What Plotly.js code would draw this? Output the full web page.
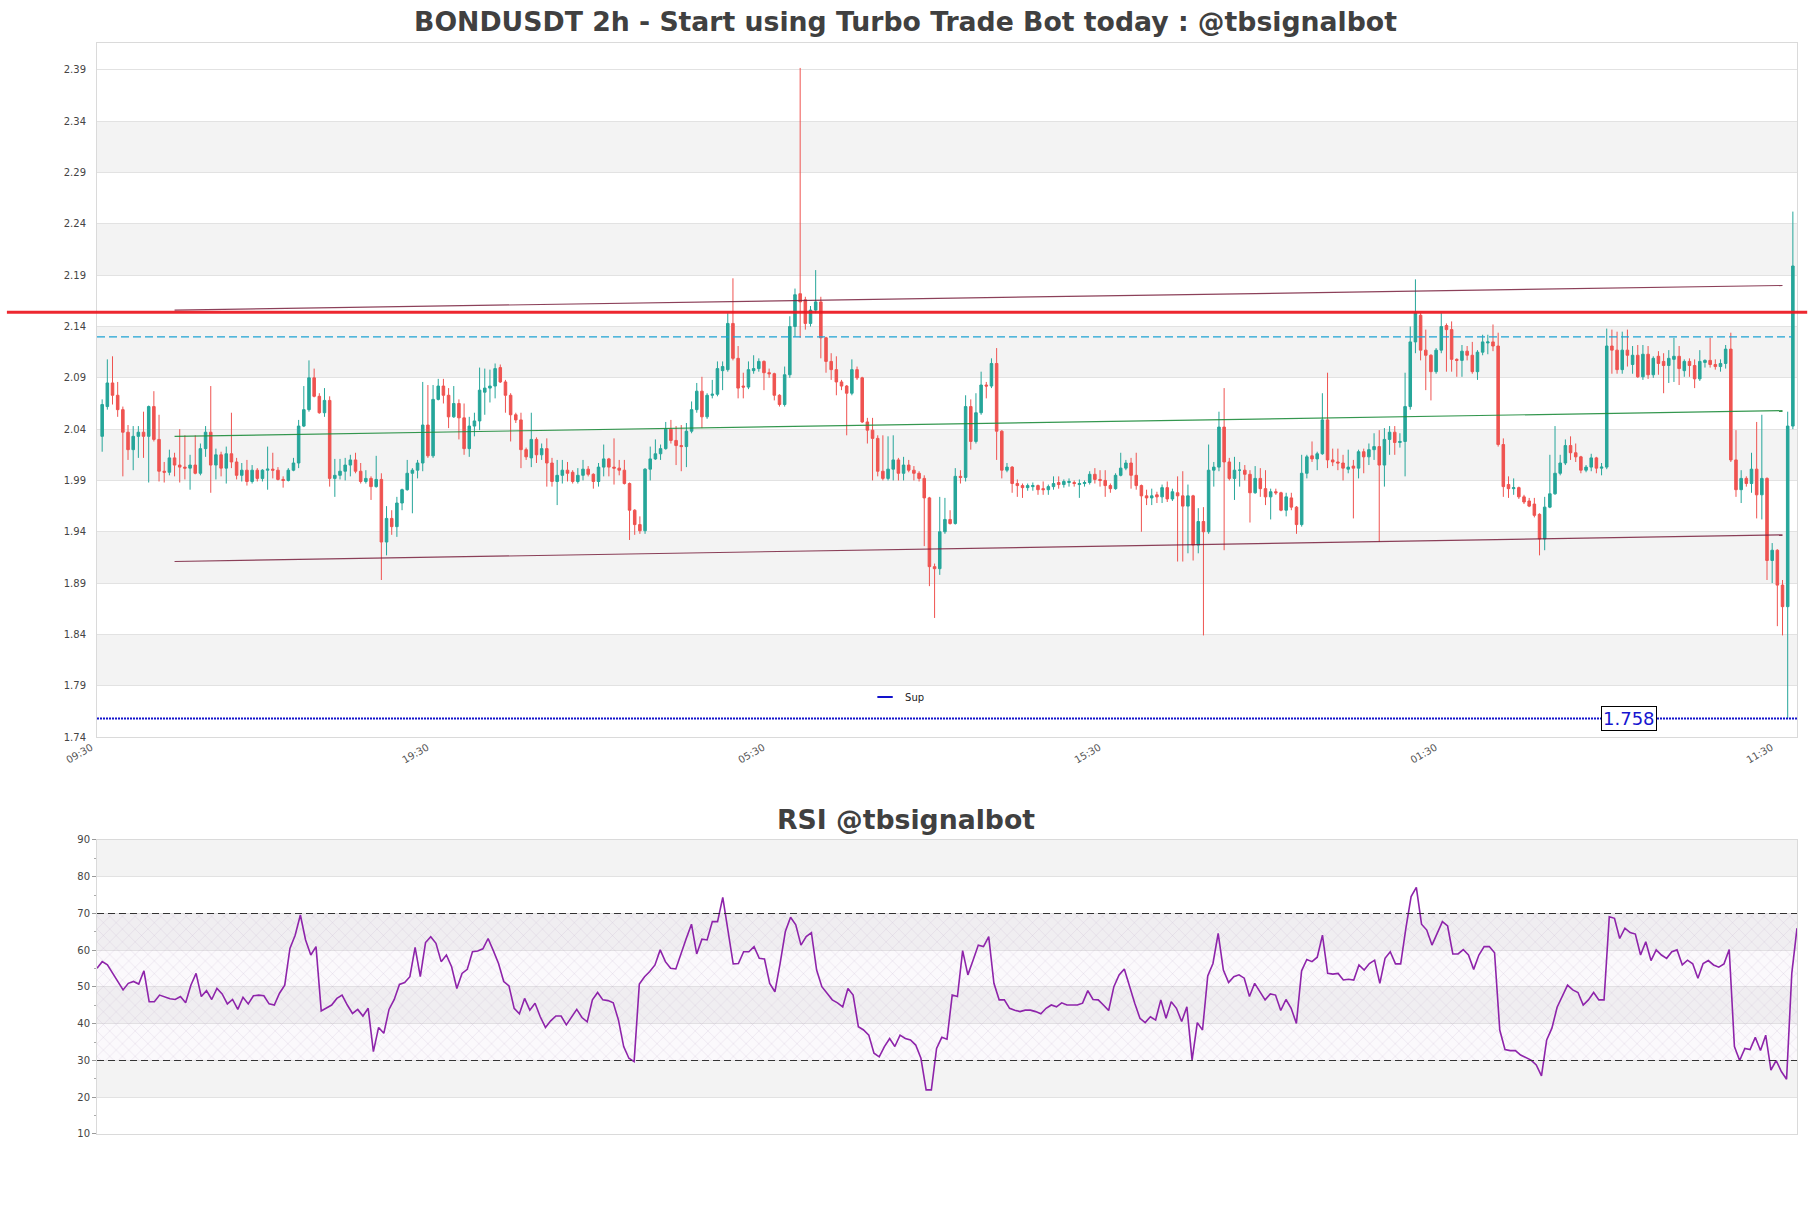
<!DOCTYPE html>
<html>
<head>
<meta charset="utf-8">
<script src="https://cdn.plot.ly/plotly-3.0.1.min.js"></script>
<style>html,body{margin:0;padding:0;background:#fff;}#chart{width:1811px;height:1208px;}</style>
</head>
<body>
<div id="chart"></div>
<script>
// ---------------- DATA ----------------
const chartTitle = "BONDUSDT 2h - Start using Turbo Trade Bot today : @tbsignalbot";
const rsiTitle = "RSI @tbsignalbot";

const tickIndex = [0, 65, 130, 195, 260, 325];
const tickLabels = ["09:30", "19:30", "05:30", "15:30", "01:30", "11:30"];
const priceTicks = [1.74,1.79,1.84,1.89,1.94,1.99,2.04,2.09,2.14,2.19,2.24,2.29,2.34,2.39];
const rsiTicks = [10,20,30,40,50,60,70,80,90];

const openP = [
2.033,2.062,2.085,2.073,2.059,2.037,2.020,2.033,2.037,2.033,
2.062,2.030,1.999,1.998,2.012,2.005,2.003,2.002,2.005,1.997,
2.021,2.037,2.005,2.015,2.002,2.016,2.008,1.995,2.000,1.989,
2.000,1.992,2.000,2.001,2.000,1.991,1.990,2.000,2.007,2.043,
2.059,2.090,2.072,2.056,2.068,1.992,1.995,1.999,2.005,2.010,
1.999,1.989,1.992,1.984,1.991,1.930,1.953,1.945,1.968,1.981,
1.997,2.000,2.007,2.044,2.014,2.069,2.082,2.073,2.052,2.065,
2.051,2.021,2.043,2.048,2.076,2.080,2.082,2.100,2.086,2.073,
2.054,2.049,2.020,2.012,2.030,2.015,2.021,2.007,1.989,1.995,
2.000,1.998,1.989,1.995,2.001,1.996,1.989,2.003,2.011,2.003,
2.002,2.000,1.987,1.961,1.947,1.941,2.001,2.011,2.016,2.021,
2.040,2.029,2.024,2.023,2.038,2.059,2.077,2.052,2.073,2.074,
2.097,2.098,2.143,2.109,2.082,2.081,2.097,2.099,2.106,2.095,
2.094,2.073,2.064,2.093,2.140,2.172,2.166,2.143,2.156,2.164,
2.129,2.106,2.098,2.086,2.082,2.075,2.098,2.090,2.047,2.039,
2.031,1.999,1.992,2.001,2.010,1.997,2.005,2.000,1.997,1.992,
1.973,1.906,1.904,1.940,1.952,1.948,1.994,1.993,2.062,2.028,
2.056,2.083,2.082,2.104,2.038,2.000,2.003,1.987,1.985,1.983,
1.984,1.985,1.982,1.981,1.984,1.988,1.986,1.988,1.988,1.986,
1.987,1.988,1.996,1.991,1.990,1.985,1.982,1.995,2.002,2.007,
1.995,1.985,1.975,1.973,1.976,1.974,1.983,1.972,1.978,1.975,
1.965,1.975,1.927,1.950,1.940,2.000,2.003,2.042,2.008,1.992,
2.000,2.000,1.996,1.978,1.992,1.982,1.974,1.979,1.978,1.961,
1.973,1.964,1.947,1.997,2.014,2.011,2.016,2.049,2.010,2.008,
2.007,2.001,2.004,2.002,2.018,2.013,2.020,2.023,2.005,2.030,
2.037,2.027,2.028,2.062,2.125,2.151,2.117,2.112,2.096,2.117,
2.141,2.137,2.108,2.107,2.116,2.112,2.096,2.115,2.124,2.125,
2.121,2.025,1.986,1.982,1.983,1.974,1.970,1.967,1.957,1.933,
1.964,1.977,1.997,2.007,2.024,2.017,2.013,2.000,2.003,2.012,
2.002,2.003,2.121,2.117,2.098,2.117,2.103,2.112,2.091,2.113,
2.093,2.111,2.106,2.102,2.108,2.111,2.097,2.106,2.102,2.089,
2.105,2.107,2.103,2.101,2.104,2.118,2.010,1.981,1.992,1.987,
2.001,1.976,1.992,1.912,1.922,1.888,1.867,2.043];

const highP = [
2.069,2.108,2.111,2.086,2.062,2.044,2.043,2.043,2.057,2.063,
2.077,2.054,2.008,2.020,2.017,2.040,2.034,2.015,2.034,2.026,
2.043,2.082,2.021,2.018,2.023,2.056,2.012,2.007,2.010,2.005,
2.002,2.001,2.023,2.017,2.003,1.994,2.002,2.012,2.049,2.082,
2.107,2.099,2.075,2.080,2.072,2.011,2.011,2.012,2.015,2.017,
2.007,2.000,1.994,2.014,1.997,1.965,1.961,1.974,1.982,2.010,
2.002,2.010,2.086,2.083,2.083,2.089,2.089,2.080,2.082,2.069,
2.065,2.052,2.056,2.100,2.099,2.098,2.104,2.103,2.088,2.075,
2.056,2.056,2.022,2.056,2.032,2.026,2.031,2.012,2.010,2.010,
2.008,2.000,2.002,2.010,2.004,1.997,2.007,2.025,2.012,2.031,
2.010,2.010,1.988,1.962,1.955,2.002,2.023,2.030,2.025,2.047,
2.049,2.043,2.044,2.046,2.067,2.085,2.091,2.075,2.088,2.106,
2.106,2.153,2.187,2.121,2.095,2.106,2.112,2.109,2.107,2.099,
2.095,2.074,2.101,2.150,2.177,2.392,2.169,2.160,2.195,2.169,
2.130,2.114,2.111,2.088,2.083,2.108,2.101,2.091,2.051,2.051,
2.034,2.034,2.033,2.034,2.012,2.013,2.010,2.004,1.999,1.995,
1.974,1.909,1.974,1.973,1.961,2.002,2.000,2.073,2.069,2.075,
2.096,2.086,2.109,2.119,2.039,2.007,2.004,1.991,1.987,1.987,
1.988,1.986,1.989,1.986,1.994,1.994,1.991,1.992,1.990,1.991,
1.990,1.999,2.002,2.000,2.000,1.987,1.997,2.017,2.010,2.012,
2.017,1.986,1.981,1.982,1.979,1.986,1.989,1.982,1.994,1.999,
1.986,1.976,1.963,1.964,2.025,2.008,2.057,2.080,2.012,2.013,
2.008,2.005,2.000,2.004,2.002,2.000,1.982,1.982,1.979,1.978,
1.978,1.965,2.015,2.015,2.028,2.018,2.075,2.095,2.021,2.021,
2.015,2.020,2.010,2.020,2.021,2.026,2.036,2.039,2.041,2.043,
2.043,2.036,2.095,2.140,2.186,2.153,2.137,2.113,2.119,2.153,
2.143,2.145,2.109,2.122,2.121,2.125,2.117,2.132,2.132,2.142,
2.134,2.031,1.994,1.992,1.984,1.976,1.973,1.973,1.958,1.974,
2.015,2.043,2.015,2.030,2.033,2.026,2.014,2.005,2.016,2.013,
2.007,2.138,2.137,2.135,2.135,2.137,2.121,2.122,2.122,2.121,
2.111,2.116,2.114,2.117,2.129,2.121,2.108,2.109,2.108,2.117,
2.108,2.129,2.108,2.108,2.122,2.134,2.039,2.000,1.994,2.017,
2.047,2.054,1.993,1.929,1.923,1.893,2.057,2.252];

const lowP = [
2.018,2.059,2.064,2.052,1.994,2.010,2.000,2.012,2.012,1.988,
2.028,1.989,1.988,1.995,1.994,1.988,1.991,1.981,1.996,1.995,
2.013,1.978,1.991,1.994,1.987,2.002,1.991,1.989,1.985,1.987,
1.989,1.989,1.981,1.992,1.990,1.983,1.989,1.999,2.002,2.042,
2.057,2.071,2.055,2.052,1.984,1.974,1.991,1.990,1.994,1.997,
1.987,1.987,1.971,1.983,1.893,1.917,1.937,1.935,1.961,1.980,
1.958,1.992,1.999,2.012,2.012,2.068,2.065,2.041,2.051,2.030,
2.015,2.013,2.033,2.039,2.054,2.066,2.070,2.085,2.056,2.028,
2.046,2.002,2.010,2.003,2.007,2.010,1.984,1.984,1.966,1.987,
1.989,1.987,1.987,1.990,1.994,1.982,1.984,1.994,1.994,1.986,
1.995,1.986,1.932,1.937,1.938,1.938,1.990,2.010,2.010,2.020,
2.026,2.005,1.999,2.003,2.036,2.056,2.041,2.050,2.070,2.072,
2.078,2.096,2.107,2.070,2.070,2.079,2.094,2.096,2.078,2.090,
2.068,2.062,2.062,2.090,2.130,2.129,2.137,2.140,2.153,2.109,
2.095,2.088,2.073,2.078,2.034,2.073,2.088,2.046,2.026,1.990,
1.994,1.990,1.990,1.990,1.990,1.990,1.998,1.990,1.989,1.926,
1.887,1.856,1.898,1.938,1.947,1.947,1.987,1.989,2.020,2.026,
2.054,2.070,2.080,2.010,1.992,1.998,1.978,1.974,1.973,1.980,
1.980,1.976,1.976,1.976,1.981,1.982,1.983,1.984,1.984,1.973,
1.984,1.986,1.987,1.984,1.974,1.978,1.981,1.994,2.000,1.982,
1.981,1.940,1.966,1.966,1.968,1.968,1.969,1.970,1.911,1.911,
1.919,1.912,1.919,1.839,1.938,1.984,1.999,1.922,1.990,1.971,
1.984,1.990,1.949,1.977,1.974,1.966,1.952,1.976,1.960,1.955,
1.961,1.938,1.945,1.992,2.008,2.000,2.015,2.002,2.004,2.000,
1.990,1.997,1.953,1.992,1.997,2.005,2.010,1.930,1.984,2.015,
2.015,2.022,1.994,2.059,2.114,2.107,2.078,2.068,2.094,2.114,
2.096,2.096,2.091,2.091,2.107,2.094,2.088,2.112,2.113,2.116,
2.023,1.974,1.973,1.976,1.972,1.967,1.964,1.954,1.917,1.922,
1.963,1.976,1.995,2.005,2.010,2.008,1.997,1.998,1.999,1.997,
1.995,2.001,2.094,2.094,2.094,2.101,2.094,2.090,2.088,2.089,
2.090,2.093,2.075,2.085,2.086,2.083,2.091,2.091,2.080,2.087,
2.100,2.100,2.098,2.096,2.099,2.008,1.974,1.968,1.984,1.978,
1.953,1.952,1.893,1.890,1.848,1.839,1.758,2.040];

const closeP = [
2.064,2.085,2.073,2.059,2.037,2.020,2.033,2.037,2.033,2.062,
2.030,1.999,1.998,2.012,2.005,2.003,2.002,2.005,1.997,2.021,
2.037,2.005,2.015,2.002,2.016,2.008,1.995,2.000,1.989,2.000,
1.992,2.000,2.001,2.000,1.991,1.990,2.000,2.007,2.043,2.059,
2.090,2.072,2.056,2.068,1.992,1.995,1.999,2.005,2.010,1.999,
1.989,1.992,1.984,1.991,1.930,1.953,1.945,1.968,1.981,1.997,
2.000,2.007,2.044,2.014,2.069,2.082,2.073,2.052,2.065,2.051,
2.021,2.043,2.048,2.078,2.080,2.082,2.099,2.086,2.073,2.054,
2.049,2.020,2.013,2.030,2.015,2.021,2.007,1.989,1.995,2.000,
1.997,1.989,1.995,2.001,1.996,1.989,2.003,2.011,2.003,2.002,
2.000,1.987,1.961,1.947,1.941,2.001,2.011,2.016,2.021,2.040,
2.029,2.024,2.023,2.038,2.059,2.077,2.052,2.073,2.074,2.099,
2.101,2.143,2.109,2.080,2.081,2.098,2.099,2.106,2.095,2.094,
2.073,2.064,2.093,2.140,2.171,2.164,2.143,2.156,2.164,2.129,
2.106,2.098,2.086,2.082,2.075,2.098,2.090,2.047,2.039,2.031,
1.999,1.992,2.001,2.010,1.997,2.005,2.000,1.997,1.992,1.973,
1.906,1.904,1.940,1.952,1.948,1.994,1.993,2.062,2.028,2.056,
2.083,2.082,2.104,2.038,2.000,2.003,1.987,1.985,1.983,1.985,
1.985,1.981,1.981,1.984,1.987,1.986,1.989,1.989,1.987,1.987,
1.988,1.996,1.991,1.990,1.985,1.982,1.995,2.002,2.007,1.995,
1.985,1.975,1.973,1.975,1.974,1.983,1.972,1.979,1.975,1.965,
1.975,1.927,1.950,1.940,2.000,2.003,2.042,2.008,1.992,2.000,
2.000,1.996,1.978,1.992,1.982,1.974,1.979,1.978,1.961,1.974,
1.964,1.947,1.997,2.013,2.011,2.016,2.049,2.010,2.008,2.007,
2.002,2.003,2.002,2.018,2.013,2.020,2.023,2.005,2.030,2.037,
2.027,2.028,2.062,2.125,2.153,2.117,2.112,2.096,2.117,2.140,
2.137,2.108,2.107,2.116,2.112,2.096,2.115,2.125,2.125,2.121,
2.025,1.984,1.982,1.983,1.974,1.969,1.965,1.956,1.933,1.964,
1.977,1.997,2.007,2.024,2.017,2.013,2.000,2.003,2.012,2.002,
2.003,2.121,2.117,2.098,2.117,2.112,2.112,2.091,2.113,2.093,
2.109,2.104,2.102,2.109,2.111,2.099,2.106,2.102,2.089,2.106,
2.107,2.103,2.101,2.104,2.118,2.010,1.981,1.992,1.987,2.001,
1.976,1.992,1.912,1.922,1.888,1.867,2.043,2.199];

const rsiValues = [
55.1,56.9,56.0,53.7,51.5,49.2,51.0,51.5,50.8,54.4,46.0,46.0,47.8,47.2,46.8,46.6,47.4,45.7,50.5,53.7,
47.4,49.0,46.6,49.6,48.1,45.4,46.6,43.9,47.2,45.4,47.6,47.8,47.6,45.4,45.1,48.3,50.5,60.5,64.1,69.6,
62.8,58.7,61.0,43.5,44.2,45.1,46.9,47.8,45.1,42.8,43.9,42.1,44.2,32.4,39.0,37.4,43.9,46.6,50.7,51.2,
52.8,60.8,52.8,62.1,63.7,61.9,56.9,58.7,55.5,49.6,53.7,54.8,59.6,59.8,60.4,63.2,59.9,56.4,51.5,50.3,
44.2,42.7,46.9,43.7,45.6,41.9,39.0,40.8,42.1,42.1,39.7,41.7,43.9,41.7,40.5,46.5,
48.5,46.5,46.3,45.7,41.0,33.8,30.6,29.7,50.8,52.8,54.2,56.0,60.1,56.9,55.1,54.9,59.2,63.2,67.1,59.0,
63.0,62.8,67.8,67.8,74.4,65.5,56.3,56.4,59.6,59.6,61.0,57.8,57.6,51.0,48.7,56.4,65.1,69.0,66.9,61.4,
63.7,64.8,54.6,50.1,48.3,46.5,45.7,44.6,49.6,47.8,39.2,38.3,36.9,32.0,31.0,33.8,36.0,33.8,36.9,36.0,
35.6,34.2,30.6,22.0,22.0,33.3,36.3,35.8,47.8,47.4,59.9,53.3,57.3,61.4,61.0,63.7,51.0,46.5,46.5,44.2,
43.7,43.3,43.7,43.7,43.3,42.7,44.2,45.1,44.6,45.7,45.1,45.1,45.1,45.6,49.0,46.6,46.5,45.1,43.6,50.1,
53.3,54.9,50.1,45.6,41.5,40.3,41.9,41.0,46.5,41.5,46.0,44.2,40.6,44.6,30.1,40.3,38.3,53.0,56.4,64.6,
54.6,51.2,52.8,53.3,52.4,47.4,51.0,48.7,46.5,48.1,47.8,43.6,46.6,44.2,40.1,54.4,57.5,56.9,58.1,64.1,
53.7,53.5,53.7,51.9,52.1,51.9,56.0,54.6,56.4,57.3,51.0,57.8,59.6,56.3,56.3,66.0,74.6,77.1,67.1,65.5,
61.4,64.6,67.8,66.6,59.0,59.0,60.2,58.7,54.8,58.7,61.0,61.0,59.3,38.3,33.0,32.7,32.7,31.5,30.9,30.1,
28.8,25.8,35.6,38.8,44.5,47.4,50.5,49.2,48.5,45.1,46.5,48.5,46.5,46.5,69.1,68.7,63.2,66.0,64.8,64.4,
58.7,62.3,57.2,60.1,58.7,57.8,59.6,60.1,56.0,57.3,56.3,52.4,56.4,57.2,56.0,55.4,56.3,60.2,33.8,30.0,
33.3,33.0,36.3,32.7,36.9,27.4,30.0,27.0,24.9,53.7,66.0];

// trend channel (start / end candle index and prices)
const channelX = [14, 325];
const channelUpper = [2.156, 2.180];
const channelMid = [2.033, 2.058];
const channelLower = [1.911, 1.937];
const resistanceLevel = 2.154;
const dashedLevel = 2.130;
const supportLevel = 1.758;
const rsiUpper = 70, rsiLower = 30;

// ---------------- BUILD ----------------
const idx = openP.map((_, i) => i);
const rsiIdx = rsiValues.map((_, i) => i);
const xMin = -1, xMax = idx.length - 0.2;
const rsiMax = rsiIdx.length - 1;
const supColor = '#1212cc';

const traces = [
  {
    type: 'candlestick', x: idx, open: openP, high: highP, low: lowP, close: closeP,
    xaxis: 'x', yaxis: 'y', showlegend: false, hoverinfo: 'skip',
    increasing: {line: {color: '#26a69a', width: 1}, fillcolor: '#26a69a'},
    decreasing: {line: {color: '#ef5350', width: 1}, fillcolor: '#ef5350'},
    whiskerwidth: 0
  },
  {type: 'scatter', mode: 'lines', x: channelX, y: channelUpper, xaxis: 'x', yaxis: 'y',
   line: {color: 'rgba(120,30,60,0.85)', width: 1.2}, showlegend: false, hoverinfo: 'skip'},
  {type: 'scatter', mode: 'lines', x: channelX, y: channelMid, xaxis: 'x', yaxis: 'y',
   line: {color: 'rgba(30,140,60,0.9)', width: 1.2}, showlegend: false, hoverinfo: 'skip'},
  {type: 'scatter', mode: 'lines', x: channelX, y: channelLower, xaxis: 'x', yaxis: 'y',
   line: {color: 'rgba(120,30,60,0.85)', width: 1.2}, showlegend: false, hoverinfo: 'skip'},
  {type: 'scatter', mode: 'lines', name: 'Sup', legendgroup: 'sup', x: [xMin, xMax], y: [supportLevel, supportLevel],
   xaxis: 'x', yaxis: 'y', line: {color: supColor, width: 2, dash: '2px,1px'}, showlegend: false, hoverinfo: 'skip'},
  // legend entry for the support line (short solid dash like the original)
  {type: 'scatter', mode: 'markers', name: 'Sup', legendgroup: 'sup', x: [null], y: [null], xaxis: 'x', yaxis: 'y',
   marker: {symbol: 'line-ew', size: 11, color: supColor, line: {color: supColor, width: 2}}, showlegend: true, hoverinfo: 'skip'},
  {type: 'scatter', mode: 'lines', x: [0, rsiMax, rsiMax, 0, 0], y: [rsiLower, rsiLower, rsiUpper, rsiUpper, rsiLower],
   xaxis: 'x2', yaxis: 'y2', fill: 'toself', line: {width: 0, color: 'rgba(0,0,0,0)'},
   fillcolor: 'rgba(215,190,230,0.12)',
   fillpattern: {shape: 'x', size: 9, solidity: 0.06, fgcolor: 'rgba(160,140,180,0.55)', bgcolor: 'rgba(225,205,235,0.12)'},
   showlegend: false, hoverinfo: 'skip'},
  {type: 'scatter', mode: 'lines', x: rsiIdx, y: rsiValues, xaxis: 'x2', yaxis: 'y2',
   line: {color: '#8e24aa', width: 1.6}, showlegend: false, hoverinfo: 'skip'}
];

const shapes = [];
for (let k = 1; k < priceTicks.length - 1; k += 2) {
  shapes.push({type: 'rect', xref: 'x domain', x0: 0, x1: 1, yref: 'y', y0: priceTicks[k], y1: priceTicks[k + 1],
    fillcolor: '#f3f3f3', line: {width: 0}, layer: 'below'});
}
for (let k = 1; k < rsiTicks.length - 1; k += 2) {
  shapes.push({type: 'rect', xref: 'x2 domain', x0: 0, x1: 1, yref: 'y2', y0: rsiTicks[k], y1: rsiTicks[k + 1],
    fillcolor: '#f3f3f3', line: {width: 0}, layer: 'below'});
}
shapes.push({type: 'line', xref: 'paper', x0: -0.053, x1: 1.006, yref: 'y', y0: resistanceLevel, y1: resistanceLevel,
  line: {color: 'rgba(236,22,30,0.92)', width: 3}});
shapes.push({type: 'line', xref: 'x domain', x0: 0, x1: 0.997, yref: 'y', y0: dashedLevel, y1: dashedLevel,
  line: {color: '#1ea3d3', width: 1.2, dash: '8px,4px'}});
shapes.push({type: 'line', xref: 'x2 domain', x0: 0, x1: 1, yref: 'y2', y0: rsiUpper, y1: rsiUpper,
  line: {color: '#333', width: 1.2, dash: '7px,4px'}});
shapes.push({type: 'line', xref: 'x2 domain', x0: 0, x1: 1, yref: 'y2', y0: rsiLower, y1: rsiLower,
  line: {color: '#333', width: 1.2, dash: '7px,4px'}});

const fontFam = 'DejaVu Sans';
const layout = {
  width: 1811, height: 1208,
  margin: {l: 97, r: 14, t: 43, b: 74, pad: 0},
  paper_bgcolor: '#ffffff', plot_bgcolor: '#ffffff',
  font: {family: fontFam, color: '#444'},
  title: {text: chartTitle, x: 0.5, xref: 'container', xanchor: 'center',
          y: 1 - 22 / 1208, yref: 'container', yanchor: 'middle',
          font: {family: fontFam, size: 26.7, weight: 700, color: '#404040'}},
  showlegend: true,
  legend: {x: 0.4518, y: 0.4005, xanchor: 'left', yanchor: 'middle', bgcolor: 'rgba(0,0,0,0)',
           font: {family: fontFam, size: 10, color: '#222'}, itemwidth: 30},
  xaxis: {domain: [0, 1], anchor: 'y', range: [xMin, xMax], rangeslider: {visible: false},
          tickmode: 'array', tickvals: tickIndex, ticktext: tickLabels, tickangle: -30, ticklabelshift: -11,
          tickfont: {family: fontFam, size: 10, color: '#555'}, ticks: '',
          showgrid: false, zeroline: false, showline: true, mirror: true, linecolor: '#dadada', linewidth: 1},
  yaxis: {domain: [0.36389, 1], anchor: 'x', range: [1.74, 2.4163],
          tickmode: 'array', tickvals: priceTicks, tickformat: '.2f',
          tickfont: {family: fontFam, size: 10, color: '#444'}, ticks: 'outside', ticklen: 8, tickcolor: 'rgba(0,0,0,0)',
          showgrid: true, gridcolor: '#e2e2e2', gridwidth: 1, zeroline: false,
          showline: true, mirror: true, linecolor: '#dadada', linewidth: 1},
  xaxis2: {domain: [0, 1], anchor: 'y2', range: [0, rsiMax], showticklabels: false, ticks: '',
           showgrid: false, zeroline: false, showline: true, mirror: true, linecolor: '#dadada', linewidth: 1},
  yaxis2: {domain: [0, 0.26948], anchor: 'x2', range: [10, 90],
           tickmode: 'array', tickvals: rsiTicks,
           tickfont: {family: fontFam, size: 10, color: '#444'}, ticks: 'outside', ticklen: 4, tickcolor: '#999',
           minor: {tickvals: [15, 25, 35, 45, 55, 65, 75, 85], ticks: 'outside', ticklen: 2, tickcolor: '#aaa', showgrid: false},
           showgrid: true, gridcolor: '#e2e2e2', gridwidth: 1, zeroline: false,
           showline: true, mirror: true, linecolor: '#dadada', linewidth: 1},
  shapes: shapes,
  annotations: [
    {text: rsiTitle, xref: 'paper', yref: 'paper', x: 0.4759, y: 0.2887, xanchor: 'center', yanchor: 'middle',
     showarrow: false, font: {family: fontFam, size: 26.7, weight: 700, color: '#404040'}},
    {text: String(supportLevel), xref: 'paper', yref: 'y', x: 0.901, y: supportLevel, xanchor: 'center', yanchor: 'middle',
     showarrow: false, font: {family: fontFam, size: 18, color: '#1515d0'},
     bgcolor: '#ffffff', bordercolor: '#000000', borderwidth: 1, borderpad: 1}
  ]
};

Plotly.newPlot('chart', traces, layout, {displayModeBar: false, staticPlot: true});
</script>
</body>
</html>
